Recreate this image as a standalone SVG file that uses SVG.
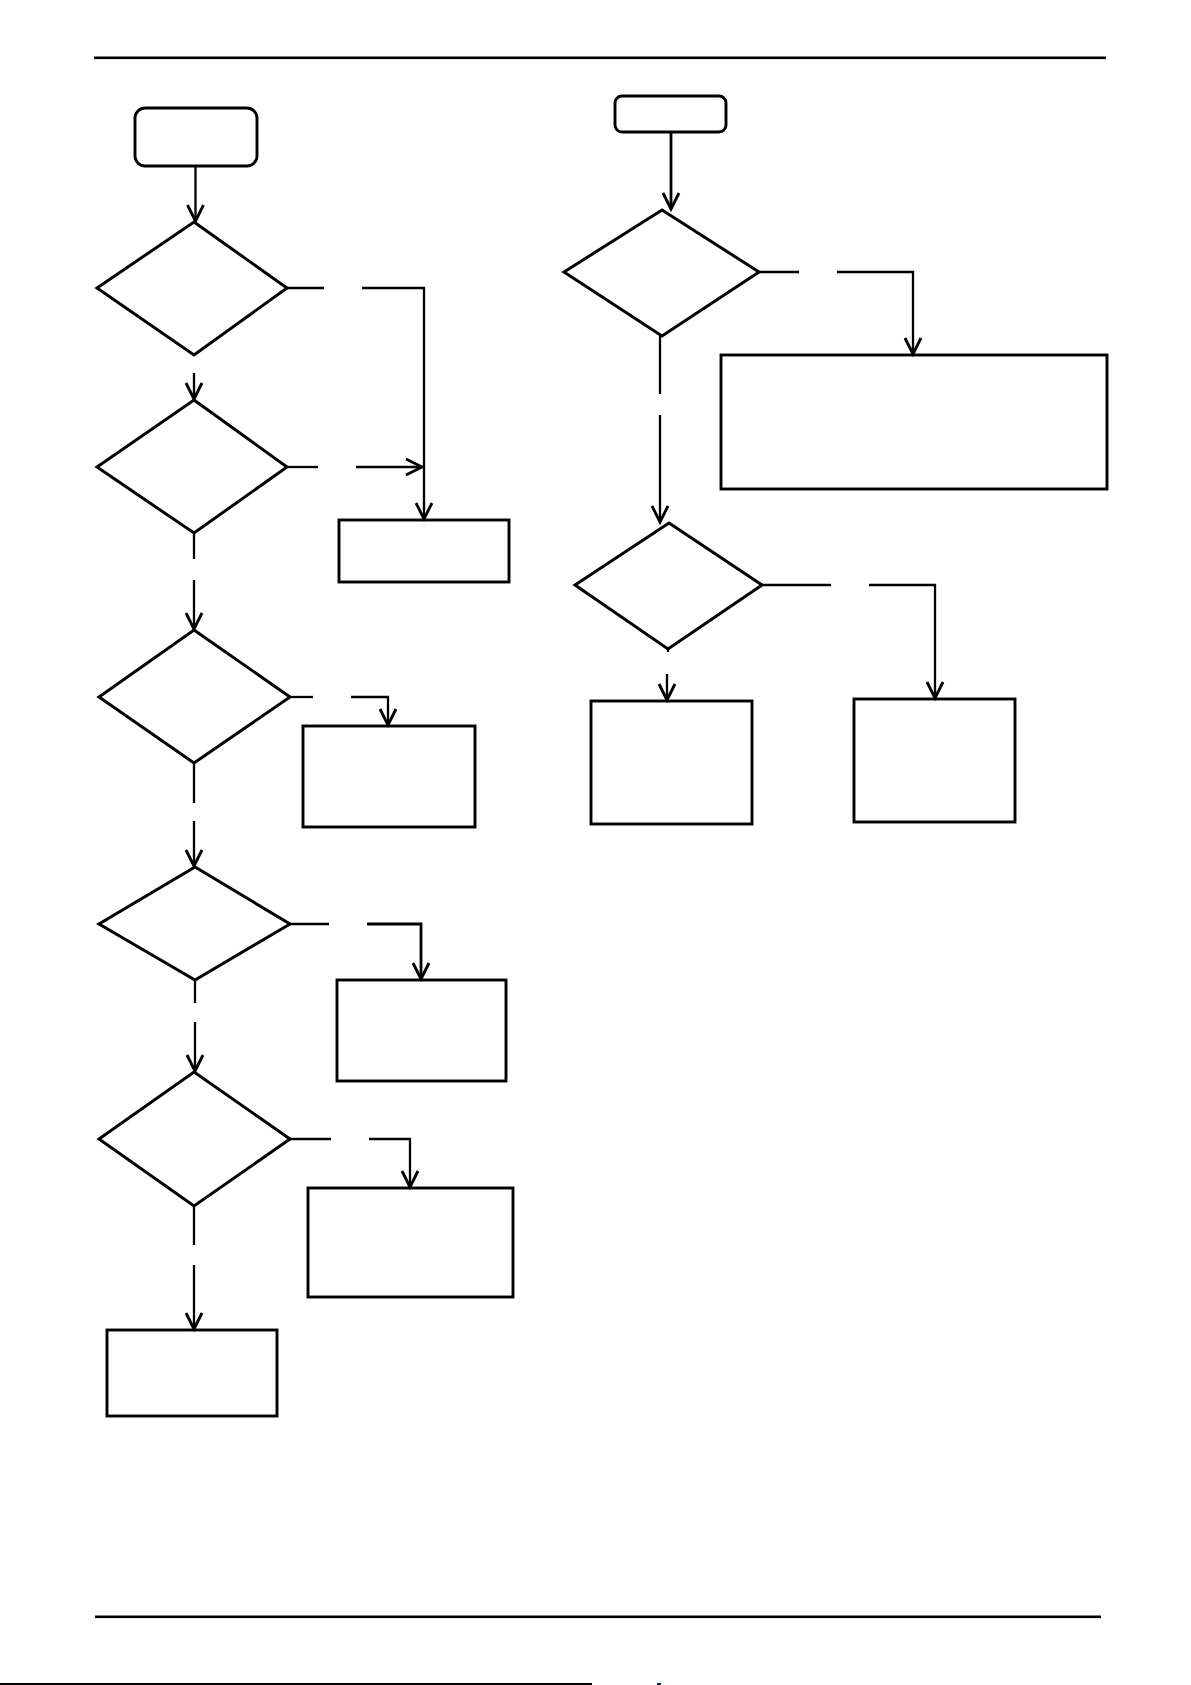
<svg xmlns="http://www.w3.org/2000/svg" width="1191" height="1685" viewBox="0 0 1191 1685">
<style>
.node{fill:#fff;stroke:#000;stroke-width:2.9}
.dia{fill:#fff;stroke:#000;stroke-width:3;stroke-linejoin:miter}
.con{fill:none;stroke:#000;stroke-width:2.3}
.rule{fill:#000;stroke:none}
</style>
<defs>
<marker id="arr" markerUnits="userSpaceOnUse" markerWidth="40" markerHeight="40" refX="0" refY="0" orient="auto" viewBox="-20 -20 40 40" overflow="visible">
<path d="M-16,-8 L0,0 L-16,8" fill="none" stroke="#000" stroke-width="2.8" stroke-linejoin="miter"/>
</marker>
</defs>
<rect class="rule" x="94" y="56.5" width="1012" height="2.6"/>
<rect class="rule" x="95" y="1615.5" width="1006" height="2.6"/>
<rect class="rule" x="0" y="1683" width="592" height="2"/>
<rect x="657" y="1683" width="4" height="2" fill="#1a2a5a"/>
<g id="nodes">
<g id="start1"><rect class="node" x="135" y="108" width="122" height="58" rx="10"/></g>
<g id="d1"><polygon class="dia" points="194,222 287,288 194,355 97,288"/></g>
<g id="d2"><polygon class="dia" points="194,400 287,467 194,533 97,467"/></g>
<g id="d3"><polygon class="dia" points="194,630 290,697 194,763 99,697"/></g>
<g id="d4"><polygon class="dia" points="195,867 290,924 195,980 99,924"/></g>
<g id="d5"><polygon class="dia" points="194,1072 290,1139 194,1206 99,1139"/></g>
<g id="b1"><rect class="node" x="339" y="520" width="170" height="62"/></g>
<g id="b2"><rect class="node" x="303" y="726" width="172" height="101"/></g>
<g id="b3"><rect class="node" x="337" y="980" width="169" height="101"/></g>
<g id="b4"><rect class="node" x="308" y="1188" width="205" height="109"/></g>
<g id="b5"><rect class="node" x="107" y="1330" width="170" height="86"/></g>
<g id="start2"><rect class="node" x="615" y="96" width="111" height="36" rx="7"/></g>
<g id="rd1"><polygon class="dia" points="662,210 759,272 662,336 564,272"/></g>
<g id="rd2"><polygon class="dia" points="669,523 762,585 668,649 575,585"/></g>
<g id="r1"><rect class="node" x="721" y="355" width="386" height="134"/></g>
<g id="r2a"><rect class="node" x="591" y="701" width="161" height="123"/></g>
<g id="r2b"><rect class="node" x="854" y="699" width="161" height="123"/></g>
</g>
<g id="connectors">
<path class="con" d="M195.5,166 V221" marker-end="url(#arr)"/>
<path class="con" d="M194,373 V399" marker-end="url(#arr)"/>
<path class="con" d="M287,288 H324"/>
<path class="con" d="M362,288 H424 V519" marker-end="url(#arr)"/>
<path class="con" d="M287,467 H318"/>
<path class="con" d="M356,467 H422" marker-end="url(#arr)"/>
<path class="con" d="M194,533 V559"/>
<path class="con" d="M194,580 V629" marker-end="url(#arr)"/>
<path class="con" d="M290,697 H313"/>
<path class="con" d="M351,697 H388 V725" marker-end="url(#arr)"/>
<path class="con" d="M194,763 V803"/>
<path class="con" d="M194,821 V866" marker-end="url(#arr)"/>
<path class="con" d="M290,924 H329"/>
<path class="con" d="M367,924 H421 V979" marker-end="url(#arr)" style="stroke-width:2.8"/>
<path class="con" d="M195,980 V1003"/>
<path class="con" d="M195,1022 V1071" marker-end="url(#arr)"/>
<path class="con" d="M290,1139 H331"/>
<path class="con" d="M369,1139 H410 V1187" marker-end="url(#arr)"/>
<path class="con" d="M194,1206 V1245"/>
<path class="con" d="M194,1265 V1329" marker-end="url(#arr)"/>
<path class="con" d="M671,132 V209" marker-end="url(#arr)" style="stroke-width:2.8"/>
<path class="con" d="M759,272 H799"/>
<path class="con" d="M837,272 H913 V354" marker-end="url(#arr)"/>
<path class="con" d="M660,336 V394"/>
<path class="con" d="M660,415 V522" marker-end="url(#arr)"/>
<path class="con" d="M762,585 H831"/>
<path class="con" d="M869,585 H935 V698" marker-end="url(#arr)"/>
<path class="con" d="M668,649 V652"/>
<path class="con" d="M667,674 V700" marker-end="url(#arr)"/>
</g>
</svg>
